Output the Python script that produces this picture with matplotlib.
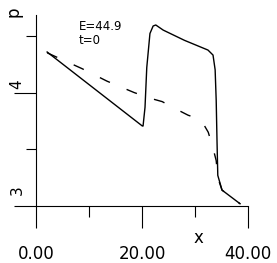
import numpy as np
import matplotlib
matplotlib.use("Agg")
import matplotlib.pyplot as plt

plt.rcParams['font.family'] = ['DejaVu Sans']
plt.rcParams['lines.scale_dashes'] = False

# ---------------------------------------------------------------
# data
x_solid = [2.1, 20.06, 20.2, 20.57, 20.9, 21.5, 22.1, 22.6, 24.0, 28.0, 32.45,
           33.4, 33.8, 34.0, 34.15, 34.3, 35.1, 38.5]
y_solid = [4.357, 3.705, 3.705, 3.87, 4.22, 4.52, 4.586, 4.595, 4.55, 4.46, 4.374,
           4.33, 4.20, 3.93, 3.58, 3.27, 3.14, 3.02]

x_dash = [2.1, 8.7, 13.4, 18.5, 21.5, 23.8, 26.6, 28.7, 30.6, 31.5, 32.5,
          33.4, 34.0, 34.3, 35.1, 38.5]
y_dash = [4.35, 4.21, 4.10, 4.00, 3.95, 3.92, 3.85, 3.80, 3.77, 3.73, 3.65,
          3.51, 3.40, 3.25, 3.14, 3.02]

x_major = [0, 20, 40]
x_labels = ["0.00", "20.00", "40.00"]
x_minor = [10, 30]
y_major = [3, 4]
y_labels = ["3", "4"]
y_minor = [3.5, 4.5]

# ---------------------------------------------------------------
fig = plt.figure(figsize=(2.77, 2.63), dpi=100)
ax = fig.add_axes([14 / 277, 1 - 227 / 263, (248 - 14) / 277, (227 - 15) / 263])
ax.set_xlim(-4.15, 40)
ax.set_ylim(2.815, 4.683)

ax.plot(x_solid, y_solid, color='black', lw=1.0, clip_on=False)
ax.plot(x_dash, y_dash, color='black', lw=1.0, dashes=(8, 13), clip_on=False)

# axes crossing at (0, 3)
for s in ['top', 'right']:
    ax.spines[s].set_visible(False)
ax.spines['left'].set_position(('data', 0))
ax.spines['bottom'].set_position(('data', 3))
ax.spines['left'].set_bounds(3, 4.683)
ax.spines['bottom'].set_bounds(0, 40)
ax.spines['left'].set_linewidth(0.8)
ax.spines['bottom'].set_linewidth(0.8)

ax.set_xticks(x_major)
ax.set_xticklabels(x_labels, fontsize=12)
ax.set_xticks(x_minor, minor=True)
ax.tick_params(axis='x', which='major', direction='out', length=15.5, width=0.8, pad=12.5)
ax.tick_params(axis='x', which='minor', direction='out', length=8, width=0.8)

ax.set_yticks(y_major)
ax.set_yticklabels([])
ax.set_yticks(y_minor, minor=True)
ax.tick_params(axis='y', which='major', direction='out', length=16, width=0.8)
ax.tick_params(axis='y', which='minor', direction='out', length=7.2, width=0.8)

# rotated y labels sit above their ticks
for v, lab, dy in zip(y_major, y_labels, [11.5, 6]):
    ax.annotate(lab, (0, v), xytext=(-13.7, dy), textcoords='offset points',
                rotation=90, ha='center', va='center', fontsize=11)

fig.text(14 / 277, 1 - 12 / 263, "p", rotation=90, ha='center', va='center', fontsize=12)
fig.text(198 / 277, 1 - 238 / 263, "x", ha='center', va='center', fontsize=12)
fig.text(79 / 277, 1 - 26.5 / 263, "E=44.9", ha='left', va='center', fontsize=8.5)
fig.text(79 / 277, 1 - 41 / 263, "t=0", ha='left', va='center', fontsize=8.5)

fig.savefig("out.png", dpi=100)
